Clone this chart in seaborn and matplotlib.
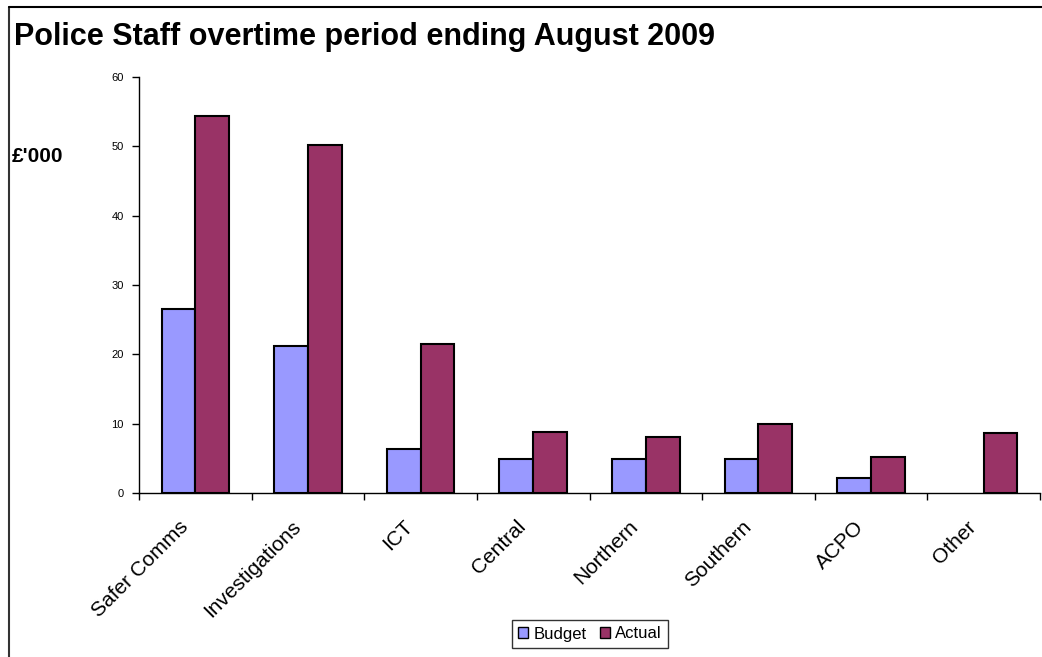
import matplotlib
matplotlib.use("Agg")
import matplotlib.pyplot as plt
from matplotlib.lines import Line2D
from matplotlib.patches import Patch
import matplotlib.transforms as mtransforms
import seaborn as sns
import pandas as pd

categories = ["Safer Comms", "Investigations", "ICT", "Central", "Northern", "Southern", "ACPO", "Other"]
budget = [26.5, 21.2, 6.3, 4.9, 4.9, 4.9, 2.2, 0.0]
actual = [54.4, 50.2, 21.5, 8.8, 8.1, 10.0, 5.2, 8.7]
series = ["Budget", "Actual"]
colors = ["#9999FF", "#993366"]
yticks = [0, 10, 20, 30, 40, 50, 60]

df = pd.DataFrame({
    "Category": categories * 2,
    "Series": [series[0]] * len(categories) + [series[1]] * len(categories),
    "Value": budget + actual,
})

sns.set_theme(style="white")
plt.rcParams["font.family"] = ["Liberation Sans", "DejaVu Sans"]
plt.rcParams["text.color"] = "black"
plt.rcParams["xtick.color"] = "black"
plt.rcParams["ytick.color"] = "black"

fig = plt.figure(figsize=(10.42, 6.57), dpi=100)
ax = fig.add_axes([139 / 1042, 1 - 493 / 657, (1040 - 139) / 1042, (493 - 77) / 657])

sns.barplot(data=df, x="Category", y="Value", hue="Series", order=categories,
            hue_order=series, palette=colors, width=0.6, edgecolor="black",
            linewidth=1.5, ax=ax, legend=False, saturation=1)
for p in ax.patches:
    if p.get_height() == 0:
        p.set_linewidth(0)

ax.set_xlim(-0.5, len(categories) - 0.5)
ax.set_ylim(0, 60)
ax.set_yticks(yticks)
ax.set_yticklabels([str(v) for v in yticks], fontsize=8)
ax.set_xlabel("")
ax.set_ylabel("")
for s in ["top", "right"]:
    ax.spines[s].set_visible(False)
for s in ["left", "bottom"]:
    ax.spines[s].set_color("black")
    ax.spines[s].set_linewidth(1)

ax.set_xticks(range(len(categories)))
ax.set_xticklabels(categories, rotation=45, ha="right", rotation_mode="anchor", fontsize=15)
ax.tick_params(axis="x", which="major", length=0, pad=8)
ax.set_xticks([i - 0.5 for i in range(len(categories) + 1)], minor=True)
ax.tick_params(axis="x", which="minor", length=5, width=1, color="black", bottom=True)
ax.tick_params(axis="y", length=5, width=1, color="black", left=True, pad=6)

offset = mtransforms.ScaledTranslation(-17 / 100, -13 / 100, fig.dpi_scale_trans)
for lbl in ax.get_xticklabels():
    lbl.set_transform(lbl.get_transform() + offset)

fig.text(14 / 1042, 1 - 37 / 657, "Police Staff overtime period ending August 2009",
         fontsize=22, fontweight="bold", va="center", ha="left")
fig.text(12 / 1042, 1 - 157 / 657, "£'000", fontsize=15, fontweight="bold",
         va="center", ha="left")

handles = [Patch(facecolor=c, edgecolor="black", linewidth=1, label=l) for c, l in zip(colors, series)]
leg = fig.legend(handles=handles, loc="center", bbox_to_anchor=(590 / 1042, 1 - 634 / 657),
                 ncol=2, fontsize=12, frameon=True, fancybox=False, handlelength=0.6,
                 handleheight=0.6, handletextpad=0.3, columnspacing=0.8, borderpad=0.4)
leg.get_frame().set_edgecolor("black")
leg.get_frame().set_linewidth(1)

fig.add_artist(Line2D([9 / 1042, 9 / 1042], [0, 1 - 7 / 657], color="#333333", linewidth=1.5,
                      transform=fig.transFigure))
fig.add_artist(Line2D([9 / 1042, 1], [1 - 7 / 657, 1 - 7 / 657], color="black", linewidth=1.5,
                      transform=fig.transFigure))

fig.savefig("out.png", dpi=100)
